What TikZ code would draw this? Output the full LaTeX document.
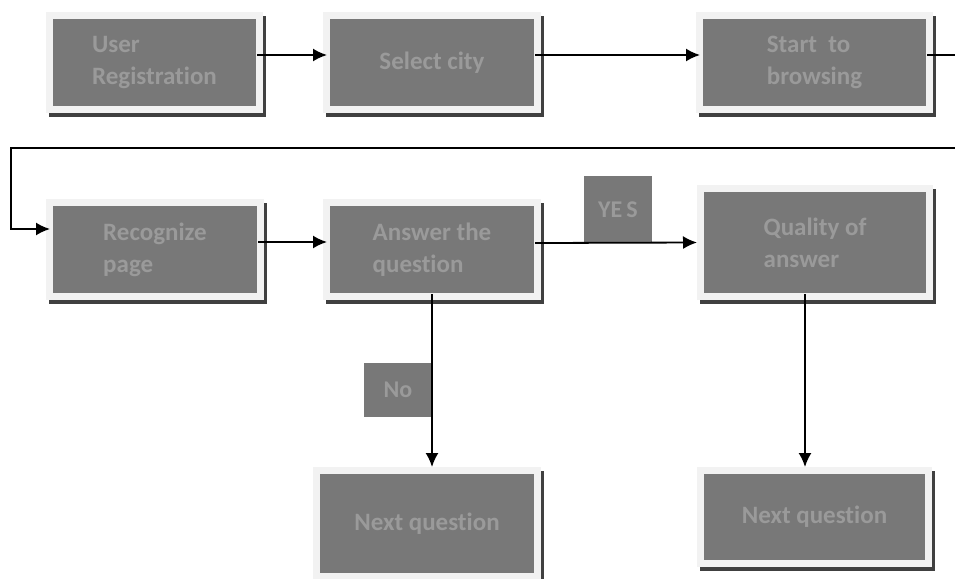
\documentclass[tikz,border=0pt]{standalone}
\usepackage{fontspec}
\setmainfont{Carlito}[Ligatures=NoCommon]
\usepackage{xcolor}
\usepackage{tikz}
\usetikzlibrary{arrows.meta,positioning,backgrounds,calc}

\definecolor{boxfill}{HTML}{787878}
\definecolor{boxframe}{HTML}{F2F2F2}
\definecolor{boxtext}{HTML}{9A9A9A}
\definecolor{boxshadow}{HTML}{404040}

\tikzset{
  flowbox/.style={rectangle, fill=boxfill, draw=boxframe, line width=7pt,
    inner sep=0pt, align=left, text=boxtext,
    font=\bfseries\fontsize{25}{32}\selectfont},
  answerlabel/.style={rectangle, fill=boxfill, inner sep=0pt, text=boxtext,
    font=\bfseries\fontsize{24}{28}\selectfont},
  flowline/.style={line width=1.8pt}
}

\begin{document}
\begin{tikzpicture}[x=1pt, y=-1pt, >={Latex[length=14pt,width=13pt]}]
    \useasboundingbox (0,0) rectangle (955,578);

    % first row
    \node (reg) [flowbox, minimum width=210pt, minimum height=94pt] at (154.5,62.5) {User\\Registration};
    \node (city) [flowbox, right=60pt of reg, minimum width=211pt, minimum height=94pt] {Select city};
    \node (browse) [flowbox, right=155pt of city, minimum width=230pt, minimum height=94pt] {Start~ to\\browsing};

    % second row
    \node (page) [flowbox, minimum width=211pt, minimum height=94pt] at (155,249.5) {Recognize\\page};
    \node (answer) [flowbox, right=59pt of page, minimum width=211pt, minimum height=94pt] {Answer the\\question};
    \node (quality) [flowbox, minimum width=229pt, minimum height=108pt] at (815,242.5) {Quality of\\answer};

    % third row
    \node (nextno) [flowbox, minimum width=221pt, minimum height=106pt] at (427,523.5) {Next question};
    \node (nextyes) [flowbox, minimum width=228pt, minimum height=93pt] at (814.5,517) {Next question};

    \node (yes) [answerlabel, minimum width=68pt, minimum height=67pt] at (618,209.5) {YE\,S};
    \node (no) [answerlabel, minimum width=68pt, minimum height=54pt] at (398,390) {No};

    % shadows
    \begin{scope}[on background layer]
        \foreach \n in {reg,city,browse,page,answer,quality,nextno,nextyes}
            \fill [boxshadow] ($(\n.south west)+(3,4)$) rectangle ($(\n.north east)+(3,4)$);
    \end{scope}

    \coordinate (edgeout) at (955,55);
    \coordinate (edgein) at (955,148);
    \coordinate (turn) at (11,148);

    \draw [flowline, ->, shorten <=-6pt, shorten >=-4pt] ([yshift=7.5pt]reg.east) -- ([yshift=7.5pt]city.west);
    \draw [flowline, ->, shorten <=-6pt, shorten >=-4pt] ([yshift=7.5pt]city.east) -- ([yshift=7.5pt]browse.west);
    \draw [flowline, shorten <=-6pt] ([yshift=7.5pt]browse.east) -- (edgeout);
    \draw [flowline, ->, shorten >=-4pt] (edgein) -- (turn) |- ([yshift=20.5pt]page.west);
    \draw [flowline, ->, shorten <=-6pt, shorten >=-4pt] ([yshift=7.5pt]page.east) -- ([yshift=7.5pt]answer.west);
    \draw [flowline, ->, shorten <=-6pt] ([yshift=6.5pt]answer.east) -- (quality.west);
    \draw [flowline, ->, shorten <=-6pt] (answer.south) -- (answer.south |- nextno.north);
    \draw [flowline, ->, shorten <=-6pt] ([xshift=-10pt]quality.south) -- ([xshift=-10pt]quality.south |- nextyes.north);
\end{tikzpicture}
\end{document}
